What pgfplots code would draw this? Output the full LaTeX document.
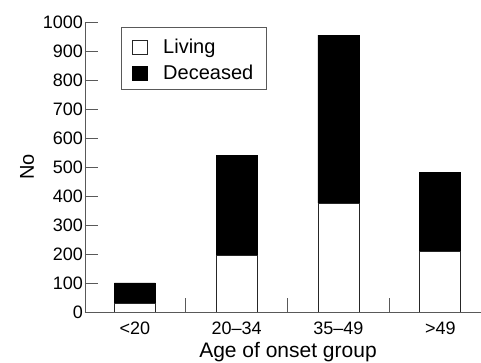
\documentclass[border=0pt]{standalone}
\usepackage{fontspec}
\setmainfont{Liberation Sans}
\usepackage{pgfplots}
\pgfplotsset{compat=1.18}
\begin{document}
\begin{tikzpicture}
\path[use as bounding box] (-85pt,-51pt) rectangle (396pt,312pt);
\begin{axis}[
  scale only axis, width=396pt, height=290pt,
  ybar stacked, bar width=41pt,
  xmin=-0.49, xmax=3.40, ymin=0, ymax=1000,
  axis x line*=bottom, axis y line*=left,
  axis line style={black!65, line width=0.9pt, -},
  xtick={0,1,2,3}, xticklabels={<20,20--34,35--49,>49},
  xtick style={draw=none},
  extra x ticks={0.5,1.5,2.5},
  extra x tick labels={},
  extra x tick style={xtick style={draw=black!65, line width=0.9pt}, major tick length=14pt},
  ytick={0,100,...,1000},
  major tick length=13pt,
  tick align=inside,
  ytick style={black!65, line width=0.9pt},
  /pgf/number format/assume math mode=true,
  /pgf/number format/1000 sep={},
  ticklabel style={font=\fontsize{18}{21}\selectfont},
  yticklabel style={anchor=east, inner sep=0pt, xshift=-2pt},
  xticklabel style={anchor=base, inner sep=0pt, yshift=-23pt},
  xlabel={Age of onset group},
  ylabel={No},
  xlabel style={at={(rel axis cs:0.5126,-0.1586)}, anchor=base, font=\fontsize{21}{24}\selectfont},
  ylabel style={at={(rel axis cs:-0.1465,0.5)}, anchor=center, font=\fontsize{20}{24}\selectfont},
  legend style={at={(rel axis cs:0.0909,0.9828)}, anchor=north west, draw=black!65, line width=0.9pt,
    font=\fontsize{20}{24}\selectfont, inner xsep=11pt, inner ysep=6pt, row sep=2.8pt,
    cells={anchor=base west, inner ysep=0pt, text height=18pt, text depth=4.5pt},
    /tikz/every odd column/.append style={column sep=13pt}},
]
\addplot[fill=white, draw=black!85, line width=0.9pt,
  legend image code/.code={\draw[fill=white, draw=black!85, line width=0.8pt] (0pt,-1pt) rectangle (15pt,13pt);}]
  coordinates {(0,28) (1,194) (2,375) (3,209)};
\addlegendentry{Living}
\addplot[fill=black, draw=black, line width=0.9pt,
  legend image code/.code={\draw[fill=black, draw=black, line width=0.8pt] (0pt,-1pt) rectangle (15pt,13pt);}]
  coordinates {(0,72) (1,345) (2,580) (3,271)};
\addlegendentry{Deceased\hspace{10pt}}
\end{axis}
\end{tikzpicture}
\end{document}
